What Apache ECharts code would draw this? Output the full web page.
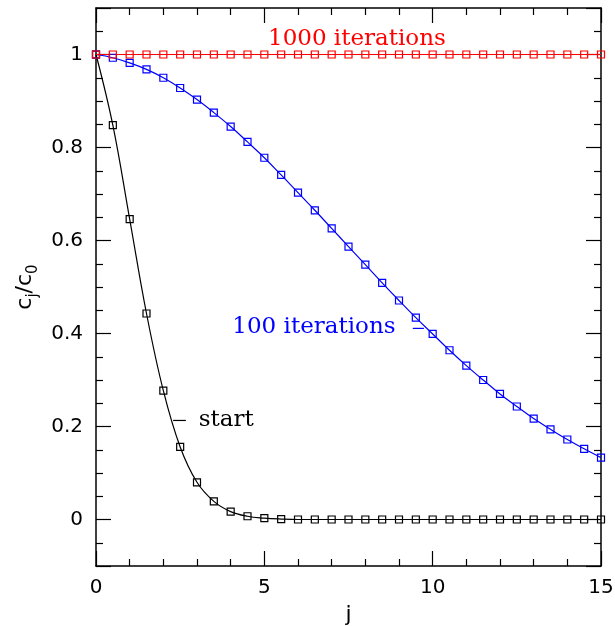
<!DOCTYPE html>
<html>
<head>
<meta charset="utf-8">
<script src="https://cdn.jsdelivr.net/npm/echarts@6/dist/echarts.min.js"></script>
<style>
  html, body { margin: 0; padding: 0; background: #fff; }
  #main { width: 615px; height: 626px; }
</style>
</head>
<body>
<div id="main"></div>
<script>
// j positions of the sampled points
const jValues = [0, 0.5, 1, 1.5, 2, 2.5, 3, 3.5, 4, 4.5, 5, 5.5, 6, 6.5, 7, 7.5,
  8, 8.5, 9, 9.5, 10, 10.5, 11, 11.5, 12, 12.5, 13, 13.5, 14, 14.5, 15]
// c_j / c_0 for each curve
const startValues = [1.000, 0.848, 0.646, 0.443, 0.277, 0.156, 0.080, 0.039, 0.017, 0.007,
  0.003, 0.001, 0, 0, 0, 0, 0, 0, 0, 0, 0, 0, 0, 0, 0, 0, 0, 0, 0, 0, 0]
const iter100Values = [1.000, 0.993, 0.982, 0.968, 0.950, 0.928, 0.903, 0.875, 0.845, 0.812,
  0.778, 0.741, 0.703, 0.665, 0.626, 0.587, 0.548, 0.509, 0.471, 0.434, 0.399, 0.364,
  0.331, 0.300, 0.270, 0.243, 0.217, 0.194, 0.172, 0.152, 0.133]
const iter1000Values = [1, 1, 1, 1, 1, 1, 1, 1, 1, 1, 1, 1, 1, 1, 1, 1,
  1, 1, 1, 1, 1, 1, 1, 1, 1, 1, 1, 1, 1, 1, 1]

const curves = [
  { name: 'start', values: startValues, color: '#000000' },
  { name: '100 iterations', values: iter100Values, color: '#0000ff' },
  { name: '1000 iterations', values: iter1000Values, color: '#ff0000' },
]

// text labels: [text, x, y, color, align], leader segments: [[x0, y0], [x1, y1], color]
const notes = [
  ['1000 iterations', 7.75, 1.034, '#ff0000', 'center'],
  ['100 iterations', 4.05, 0.413, '#0000ff', 'left'],
  ['start', 3.05, 0.213, '#000000', 'left'],
]
const leaders = [
  [[9.41, 0.411], [9.74, 0.411], '#0000ff'],
  [[2.29, 0.213], [2.67, 0.213], '#000000'],
]

const chart = echarts.init(document.getElementById('main'))

function axisCommon(showLabel, splitNumber) {
  return {
    type: 'value',
    axisLine: { show: true, onZero: false, lineStyle: { color: '#000', width: 1.5 } },
    axisTick: { show: true, inside: true, length: 15, lineStyle: { color: '#000', width: 1.2 } },
    minorTick: { show: true, splitNumber: splitNumber, length: 7, lineStyle: { color: '#000', width: 1.2 } },
    splitLine: { show: false },
    axisLabel: {
      show: showLabel,
      color: '#000',
      fontFamily: 'DejaVu Sans',
      fontSize: 20,
    },
  }
}

const xBottom = Object.assign(axisCommon(true, 5), {
  position: 'bottom', min: 0, max: 15, interval: 5,
  name: 'j', nameLocation: 'middle', nameGap: 38,
  nameTextStyle: { color: '#000', fontFamily: 'DejaVu Sans', fontSize: 22 },
})
xBottom.axisLabel.margin = 12

const xTop = Object.assign(axisCommon(false, 5), {
  position: 'top', min: 0, max: 15, interval: 5,
})

const yLeft = Object.assign(axisCommon(true, 4), {
  position: 'left', min: -0.1, max: 1.1, splitNumber: 5,
  name: 'c{sub|j}/c{sub|0}', nameLocation: 'middle', nameRotate: 90, nameGap: 54,
  nameTextStyle: {
    color: '#000',
    fontFamily: 'DejaVu Sans',
    fontSize: 22,
    lineHeight: 30,
    verticalAlign: 'middle',
    rich: {
      sub: { fontFamily: 'DejaVu Sans', fontSize: 15, color: '#000', verticalAlign: 'bottom', lineHeight: 30, padding: [12, 0, 0, 0] },
    },
  },
})
yLeft.axisLabel.margin = 13
yLeft.axisLabel.showMinLabel = false
yLeft.axisLabel.showMaxLabel = false

const yRight = Object.assign(axisCommon(false, 4), {
  position: 'right', min: -0.1, max: 1.1, splitNumber: 5,
})

const option = {
  animation: false,
  grid: { left: 96, right: 14, top: 8, bottom: 60, containLabel: false, outerBoundsMode: 'none' },
  xAxis: [xBottom, xTop],
  yAxis: [yLeft, yRight],
  series: curves.map((c) => ({
    name: c.name,
    type: 'line',
    xAxisIndex: 0,
    yAxisIndex: 0,
    data: jValues.map((j, i) => [j, c.values[i]]),
    smooth: 0.4,
    symbol: 'rect',
    symbolSize: 7,
    showAllSymbol: true,
    clip: true,
    lineStyle: { color: c.color, width: 1.2 },
    itemStyle: { color: 'rgba(0,0,0,0)', borderColor: c.color, borderWidth: 1.2 },
  })),
}
chart.setOption(option)

// annotations placed in data coordinates
const graphics = []
notes.forEach(([text, x, y, color, align]) => {
  const p = chart.convertToPixel({ gridIndex: 0 }, [x, y])
  graphics.push({
    type: 'text',
    x: p[0],
    y: p[1],
    style: {
      text: text,
      fill: color,
      font: '23px "DejaVu Serif"',
      textAlign: align,
      textVerticalAlign: 'middle',
    },
  })
})
leaders.forEach(([a, b, color]) => {
  const p0 = chart.convertToPixel({ gridIndex: 0 }, a)
  const p1 = chart.convertToPixel({ gridIndex: 0 }, b)
  graphics.push({
    type: 'line',
    shape: { x1: p0[0], y1: p0[1], x2: p1[0], y2: p1[1] },
    style: { stroke: color, lineWidth: 1.2 },
  })
})
chart.setOption({ graphic: graphics })
</script>
</body>
</html>
